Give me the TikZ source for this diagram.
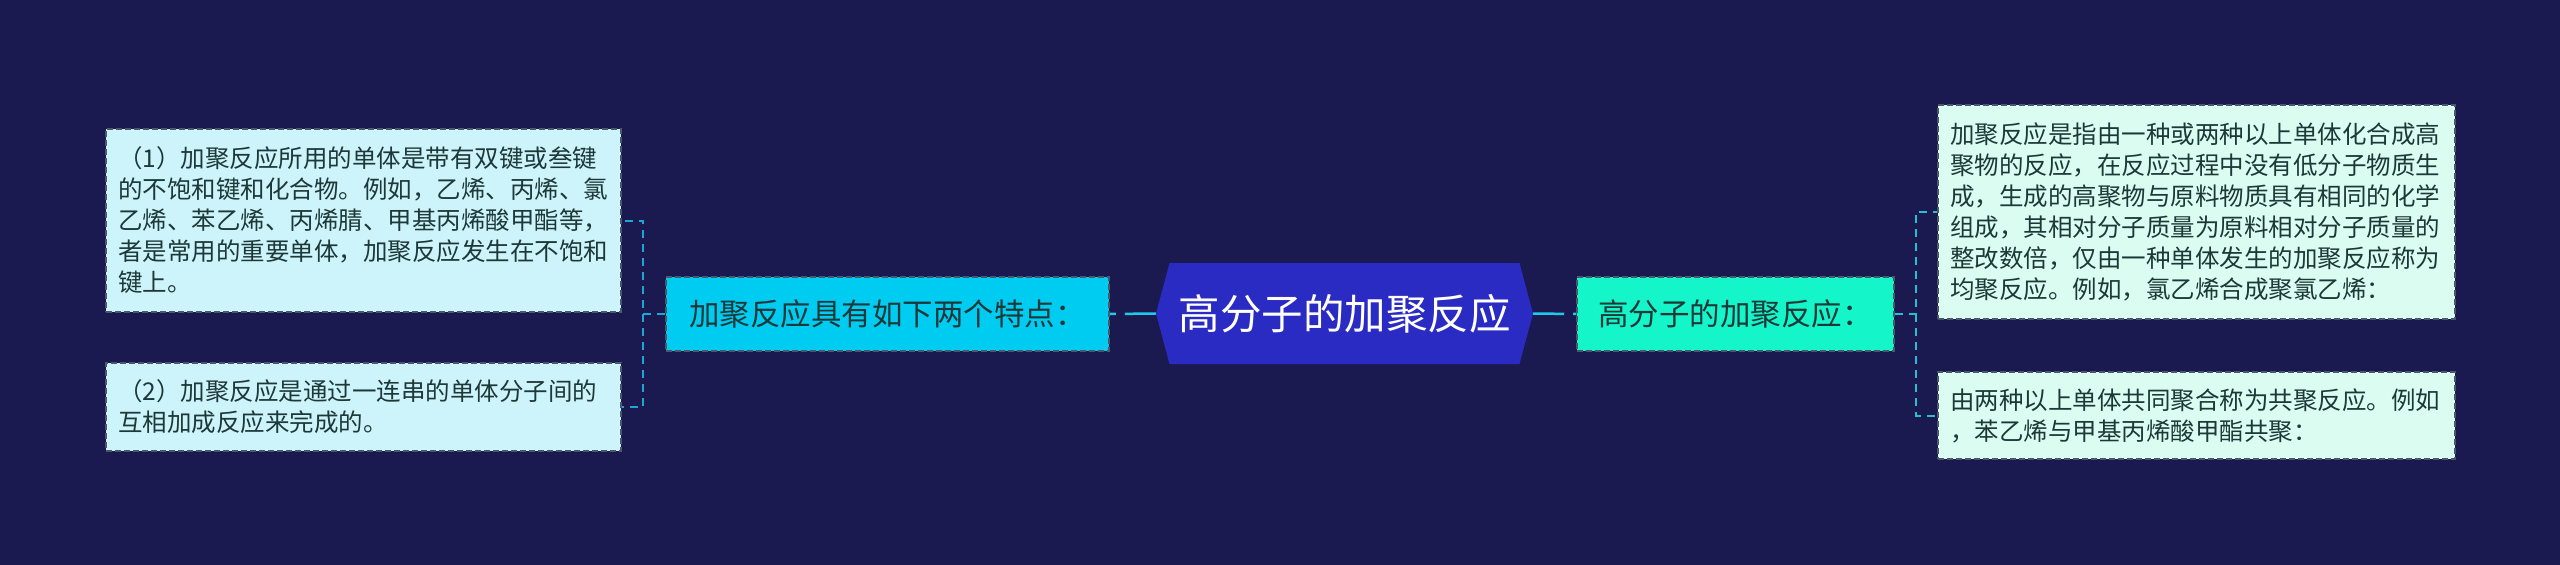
\documentclass[tikz,border=0pt]{standalone}
\usepackage{fontspec}
\setmainfont{Noto Sans CJK SC}
\usetikzlibrary{shapes.symbols}

\definecolor{bgnavy}{HTML}{1B1A50}
\definecolor{hexblue}{HTML}{2A2BC3}
\definecolor{featcyan}{HTML}{00CCF2}
\definecolor{defaqua}{HTML}{14F6C9}
\definecolor{notecyan}{HTML}{CEF4FB}
\definecolor{notemint}{HTML}{DBFDF1}
\definecolor{linkcyan}{HTML}{1FC9E9}
\definecolor{forkblue}{HTML}{1CA6D6}
\definecolor{forkteal}{HTML}{25BFD2}
\definecolor{inkdark}{HTML}{1D3838}
\definecolor{edgegray}{HTML}{4B5867}

\tikzset{
  title/.style={shape=signal, signal to=west and east, signal pointer angle=150,
    fill=hexblue, text=white, minimum width=377pt, minimum height=101pt,
    inner sep=0pt, font=\fontsize{41.5pt}{48pt}\selectfont},
  branch/.style={draw=edgegray, dash pattern=on 6pt off 3pt, line width=1.5pt,
    text=inkdark, minimum height=74pt, inner sep=0pt,
    font=\fontsize{30.5pt}{36pt}\selectfont},
  note/.style={draw=edgegray, dash pattern=on 6pt off 3pt, line width=1.5pt,
    text=inkdark, align=left, inner xsep=12pt, inner ysep=0pt,
    font=\fontsize{24.5pt}{31pt}\selectfont},
  link/.style={draw=linkcyan, line width=2.5pt, dash pattern=on 31pt off 9pt},
  fork/.style={line width=2pt, dash pattern=on 8pt off 6pt}
}

\begin{document}
\begin{tikzpicture}[x=1pt,y=-1pt]
  \fill[bgnavy] (0,0) rectangle (2560,565);

  \node[title] (topic) at (1344.5,313.5) {高分子的加聚反应};
  \node[branch, fill=featcyan, minimum width=443pt] (feature) at (887.5,314) {加聚反应具有如下两个特点：};
  \node[branch, fill=defaqua, minimum width=317pt] (define) at (1735.5,314) {高分子的加聚反应：};

  % left side notes
  \node[note, fill=notecyan, text width=491pt, minimum height=183pt] (featone) at (363.5,220.5)
    {（1）加聚反应所用的单体是带有双键或叁键\\的不饱和键和化合物。例如，乙烯、丙烯、氯\\乙烯、苯乙烯、丙烯腈、甲基丙烯酸甲酯等，\\者是常用的重要单体，加聚反应发生在不饱和\\键上。};
  \node[note, fill=notecyan, text width=491pt, minimum height=88pt] (feattwo) at (363.5,407)
    {（2）加聚反应是通过一连串的单体分子间的\\互相加成反应来完成的。};

  % right side notes
  \node[note, fill=notemint, text width=493pt, minimum height=214pt] (defone) at (2196.5,212)
    {加聚反应是指由一种或两种以上单体化合成高\\聚物的反应，在反应过程中没有低分子物质生\\成，生成的高聚物与原料物质具有相同的化学\\组成，其相对分子质量为原料相对分子质量的\\整改数倍，仅由一种单体发生的加聚反应称为\\均聚反应。例如，氯乙烯合成聚氯乙烯：};
  \node[note, fill=notemint, text width=493pt, minimum height=87pt] (deftwo) at (2196.5,415.5)
    {由两种以上单体共同聚合称为共聚反应。例如\\，苯乙烯与甲基丙烯酸甲酯共聚：};

  \coordinate (forkL) at (643,314);
  \coordinate (forkR) at (1916,314);

  \draw[link] (topic.west) -- (feature.east);
  \draw[link] (topic.east) -- (define.west);
  \draw[fork, draw=forkblue] (feature.west) -- (forkL) |- (featone.east);
  \draw[fork, draw=forkblue] (forkL) |- (feattwo.east);
  \draw[fork, draw=forkteal] (define.east) -- (forkR) |- (defone.west);
  \draw[fork, draw=forkteal] (forkR) |- (deftwo.west);
\end{tikzpicture}
\end{document}
